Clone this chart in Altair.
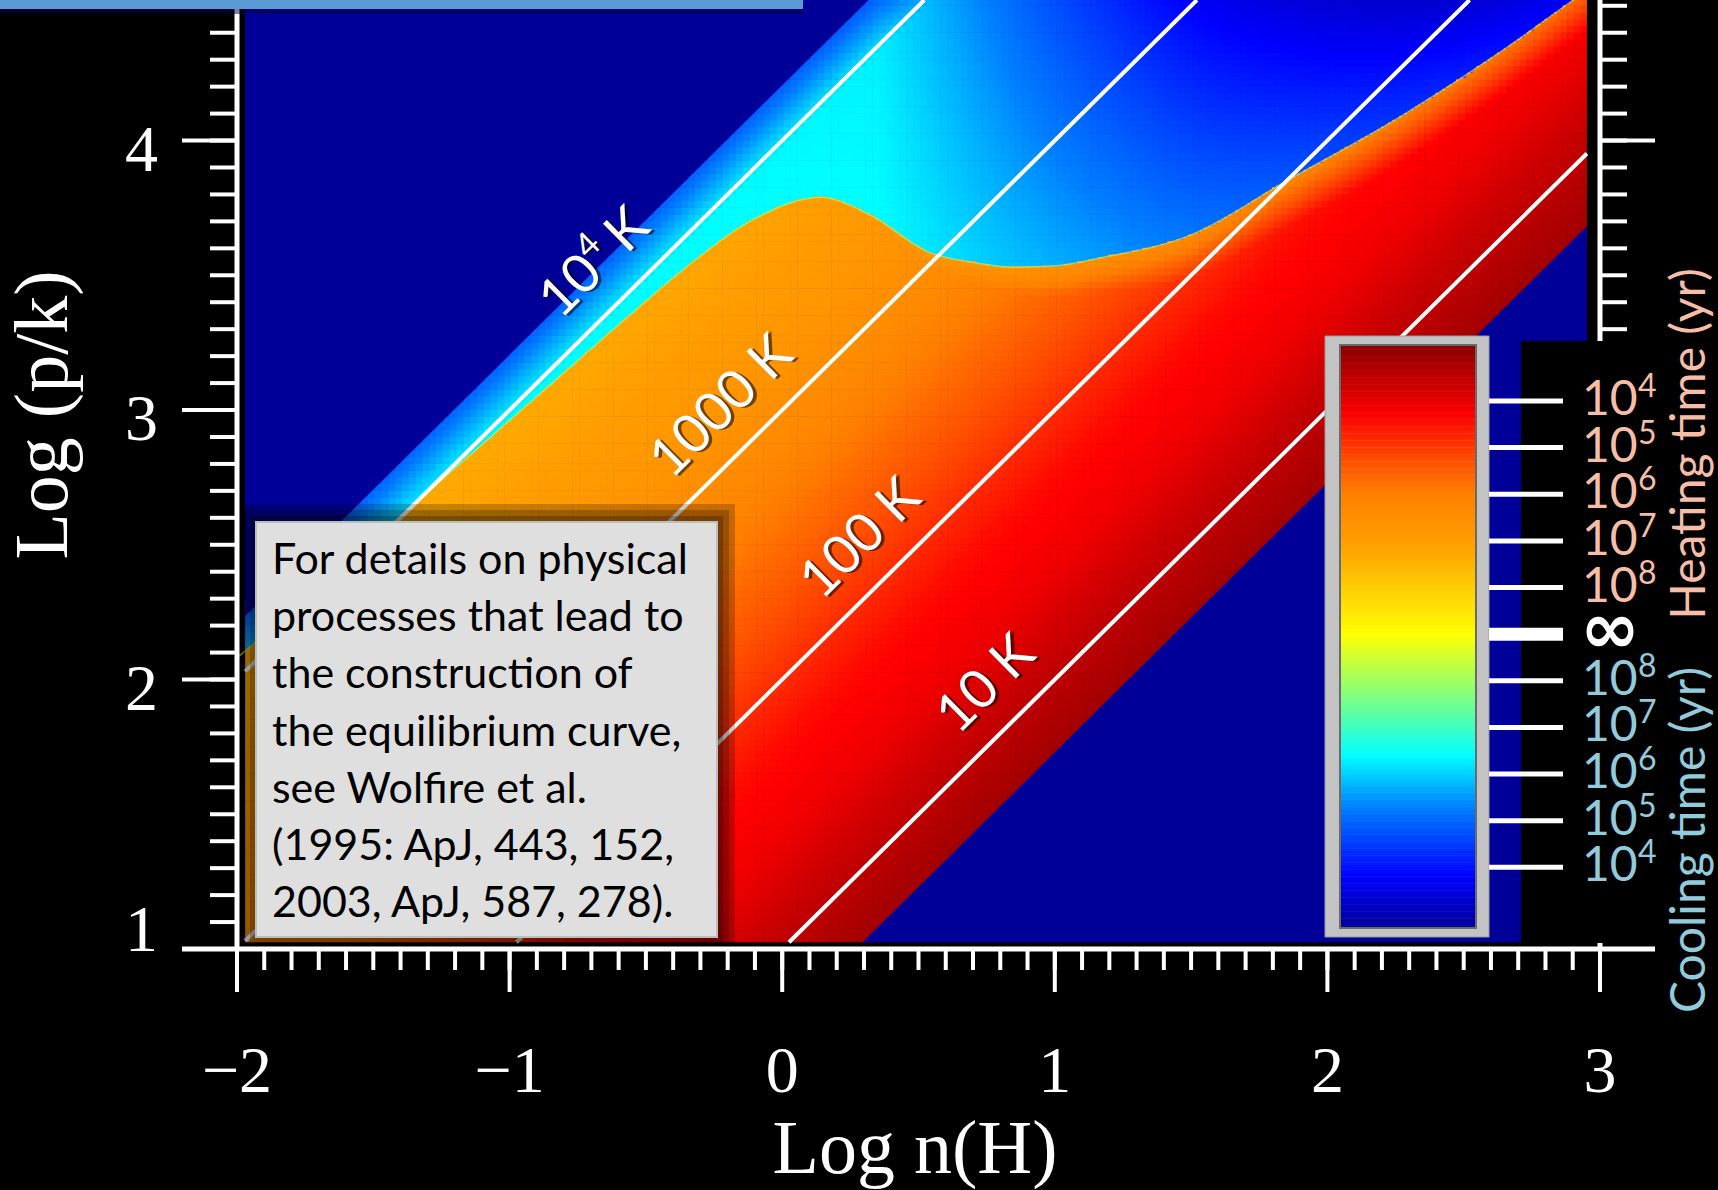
import numpy as np
import pandas as pd
import altair as alt

# ------------------------------------------------------------------ values
# thermal-equilibrium curve: log n(H) against log(p/k)
curve_logn = [-2.00, -1.60, -1.25, -0.90, -0.55, -0.34, -0.10, 0.14, 0.32, 0.54,
              0.72, 0.84, 1.00, 1.17, 1.50, 1.85, 2.27, 2.63, 2.90, 2.96]
curve_logp = [2.08, 2.43, 2.74, 3.05, 3.36, 3.54, 3.71, 3.79, 3.725, 3.585,
              3.545, 3.53, 3.535, 3.565, 3.65, 3.85, 4.09, 4.325, 4.52, 4.563]

# temperature range (log T) covered by the computed grid
grid_logT = [0.73, 4.205]

# heating side: log T -> heating-time level (decades short of "infinite")
heat_logT = [0.6, 0.7, 1.1, 1.4, 1.75, 2.2, 2.9, 3.2, 3.7, 4.1, 4.3]
heat_level = [6.0, 5.9, 5.4, 4.9, 4.6, 3.8, 2.65, 2.3, 1.9, 1.6, 1.5]

# isotherms (log T) and their labels
iso_logT = [4, 3, 2, 1]
iso_text = ["10", "1000 K", "100 K", "10 K"]
iso_label_logn = [-0.69, -0.22, 0.29, 0.75]

# colour scale: level (+ heating, - cooling, 0 = infinite time)
level_stops = [-6.3, -5.2, -3.7, -2.6, -1.35, 0.0, 1.9, 3.0, 3.7, 4.7, 6.2]
level_colors = ["#000099", "#0000ff", "#0080ff", "#00ffff", "#80ff80", "#ffff00",
                "#ffa000", "#ff8000", "#ff5000", "#ff0000", "#880000"]
cb_ticks = [5, 4, 3, 2, 1, 0, -1, -2, -3, -4, -5]
cb_exponent = ["4", "5", "6", "7", "8", "", "8", "7", "6", "5", "4"]
cb_side = ["heat"] * 5 + ["inf"] + ["cool"] * 5

x_ticks = [round(-2 + 0.1 * i, 1) for i in range(51)]
y_ticks = [round(1 + 0.1 * i, 1) for i in range(36)]
x_major = [-2, -1, 0, 1, 2, 3]
y_major = [1, 2, 3, 4]

note_lines = ["For details on physical", "processes that lead to",
              "the construction of", "the equilibrium curve,",
              "see Wolfire et al.", "(1995: ApJ, 443, 152,",
              "2003, ApJ, 587, 278)."]

# ------------------------------------------------------------------ layout
W, H = 1363, 949
X_DOM = [-2, 3]
Y_DOM = [1, 4.5215]
PX = W / (X_DOM[1] - X_DOM[0])
PY = H / (Y_DOM[1] - Y_DOM[0])
GX = [-1.97, 2.952]          # extent of the computed grid
GY = [1.025, 4.5215]
NAVY = "#000099"
SERIF = "Liberation Serif"
SANS = "Lato"
HEAT_C = "#f6bea6"
COOL_C = "#92cbdc"
CB_RANGE = [928, 345]        # colour-bar extent, pixels from the top

xs = alt.Scale(domain=X_DOM, nice=False, zero=False)
ys = alt.Scale(domain=Y_DOM, nice=False, zero=False)
level_scale = alt.Scale(domain=level_stops, range=level_colors, interpolate="rgb")
cb_scale = alt.Scale(domain=[-6.3, 6.2], range=CB_RANGE, nice=False, zero=False)


def qx(f):
    return alt.X(f"{f}:Q", scale=xs, axis=None)


def qy(f):
    return alt.Y(f"{f}:Q", scale=ys, axis=None)


def one():
    return pd.DataFrame({"k": [0]})


# ------------------------------------------------------------------ field
def monotone(xq, xp, yp):
    """Monotone cubic through the curve points (same family as Vega's 'monotone')."""
    xp = np.asarray(xp, float)
    yp = np.asarray(yp, float)
    h = np.diff(xp)
    dl = np.diff(yp) / h
    m = np.zeros_like(yp)
    for i in range(1, len(xp) - 1):
        p = (dl[i - 1] * h[i] + dl[i] * h[i - 1]) / (h[i - 1] + h[i])
        m[i] = (np.sign(dl[i - 1]) + np.sign(dl[i])) * min(abs(dl[i - 1]), abs(dl[i]), 0.5 * abs(p))
    m[0] = (3 * dl[0] - m[1]) / 2
    m[-1] = (3 * dl[-1] - m[-2]) / 2
    xq = np.clip(np.asarray(xq, float), xp[0], xp[-1])
    k = np.clip(np.searchsorted(xp, xq) - 1, 0, len(xp) - 2)
    t = (xq - xp[k]) / h[k]
    h00 = 2 * t ** 3 - 3 * t ** 2 + 1
    h10 = t ** 3 - 2 * t ** 2 + t
    h01 = -2 * t ** 3 + 3 * t ** 2
    h11 = t ** 3 - t ** 2
    return h00 * yp[k] + h10 * h[k] * m[k] + h01 * yp[k + 1] + h11 * h[k] * m[k + 1]


def level_at(xc, yc):
    pc = monotone(xc, curve_logn, curve_logp)
    d = yc - pc
    lt = yc - xc
    cool = -(2.6 + 1.05 * np.maximum(xc - 0.35, 0) * (1 + 1.2 * d)
             + 6.0 * np.maximum(lt - 3.97, 0) + 0.2 * d)
    heat = np.minimum(np.interp(lt, heat_logT, heat_level),
                      1.8 + 0.5 * np.maximum(xc, 0) + 10 * np.abs(d))
    return np.clip(np.where(d >= 0, cool, heat), -6.25, 6.15)


step = 0.025
nx = int(np.ceil((GX[1] - GX[0]) / step))
ny = int(np.ceil((GY[1] - GY[0]) / step))
X0, Y0 = np.meshgrid(GX[0] + np.arange(nx) * step, GY[0] + np.arange(ny) * step)
X0, Y0 = X0.ravel(), Y0.ravel()
X1, Y1 = np.minimum(X0 + step, GX[1]), np.minimum(Y0 + step, GY[1])
XC, YC = (X0 + X1) / 2, (Y0 + Y1) / 2
lt = YC - XC
keep = (lt > grid_logT[0] - 0.045) & (lt < grid_logT[1] + 0.045)
dc = YC - monotone(XC, curve_logn, curve_logp)
near = keep & (np.abs(dc) < 0.03)
far = keep & ~near

parts = [(X0[far], X1[far], Y0[far], Y1[far])]
sub = 3
nx0, nx1, ny0, ny1 = X0[near], X1[near], Y0[near], Y1[near]
wx, wy = (nx1 - nx0) / sub, (ny1 - ny0) / sub
for i in range(sub):
    for j in range(sub):
        a = nx0 + i * wx
        b = ny0 + j * wy
        parts.append((a, a + wx, b, b + wy))
cx0 = np.concatenate([p[0] for p in parts])
cx1 = np.concatenate([p[1] for p in parts])
cy0 = np.concatenate([p[2] for p in parts])
cy1 = np.concatenate([p[3] for p in parts])
val = level_at((cx0 + cx1) / 2, (cy0 + cy1) / 2)
# slight overlap so neighbouring cells leave no seams
cx1e = np.where(cx1 < GX[1] - 1e-9, cx1 + 0.002, cx1)
cy1e = np.where(cy1 < GY[1] - 1e-9, cy1 + 0.002, cy1)
cells = pd.DataFrame({"x0": cx0.round(4), "x1": cx1e.round(4),
                      "y0": cy0.round(4), "y1": cy1e.round(4), "v": val.round(2)})

# ------------------------------------------------------------------ main panel
bg = alt.Chart(pd.DataFrame({"x0": [GX[0]], "x1": [GX[1]], "y0": [GY[0]], "y1": [GY[1]]})).mark_rect(
    color=NAVY).encode(x=qx("x0"), x2="x1", y=qy("y0"), y2="y1")

heat = alt.Chart(cells).mark_rect(strokeWidth=0).encode(
    x=qx("x0"), x2="x1", y=qy("y0"), y2="y1",
    color=alt.Color("v:Q", scale=level_scale, legend=None))

# outside the computed temperature range
up_x = [GX[0], GY[1] - grid_logT[1]]
lo_x = [GY[0] - grid_logT[0], GX[1]]
clip_up = alt.Chart(pd.DataFrame({"x": up_x, "y": [v + grid_logT[1] for v in up_x],
                                  "y2": [GY[1], GY[1]]})).mark_area(color=NAVY).encode(
    x=qx("x"), y=qy("y"), y2="y2")
clip_lo = alt.Chart(pd.DataFrame({"x": lo_x, "y": [v + grid_logT[0] for v in lo_x],
                                  "y2": [GY[0], GY[0]]})).mark_area(color=NAVY).encode(
    x=qx("x"), y=qy("y"), y2="y2")

# thin bright edge along the equilibrium curve
cdf = pd.DataFrame({"x": curve_logn, "y": curve_logp})
edge = alt.Chart(cdf).mark_line(color="#d8f060", strokeWidth=1.5, opacity=0.6, clip=True,
                                interpolate="monotone").encode(
    x=qx("x"), y=qy("y"), order="x:Q")

# isotherms
iso_rows = []
for t in iso_logT:
    xa = max(GX[0], GY[0] - t)
    xb = min(GX[1], GY[1] - t)
    iso_rows += [{"T": t, "x": xa, "y": xa + t}, {"T": t, "x": xb, "y": xb + t}]
iso = alt.Chart(pd.DataFrame(iso_rows)).mark_line(color="white", strokeWidth=4).encode(
    x=qx("x"), y=qy("y"), detail="T:N")

ANG = 360 - np.degrees(np.arctan2(PY, PX))
lab_df = pd.DataFrame({"x": iso_label_logn,
                       "y": [n + t + 0.23 for n, t in zip(iso_label_logn, iso_logT)],
                       "text": iso_text})
plain = lab_df.iloc[1:]
first = lab_df.iloc[:1]


def iso_text_layer(df, dx, dy, size, text, align, shadow):
    kw = dict(angle=float(ANG), font=SANS, fontSize=size, align=align, baseline="middle",
              dx=dx + (2 if shadow else 0), dy=dy + (3 if shadow else 0))
    if shadow:
        kw.update(color="black", opacity=0.55)
    else:
        kw.update(color="white")
    enc = dict(x=qx("x"), y=qy("y"))
    enc["text"] = alt.Text("text:N") if text is None else alt.value(text)
    return alt.Chart(df).mark_text(**kw).encode(**enc)


iso_labels = []
for sh in (True, False):
    iso_labels += [
        iso_text_layer(plain, 0, 0, 54, None, "center", sh),
        iso_text_layer(first, -63, 0, 54, None, "left", sh),
        iso_text_layer(first, -1, -17, 34, "4", "left", sh),
        iso_text_layer(first, 30, 0, 54, "K", "left", sh),
    ]

# note box
bx0, bx1 = -2 + 19 / PX, -2 + 480 / PX
by1, by0 = Y_DOM[1] - 522 / PY, Y_DOM[1] - 937 / PY
shadow_rows = []
for pad in (18, 12, 6):
    shadow_rows.append({"x0": bx0 - pad / PX, "x1": bx1 + pad / PX,
                        "y0": by0 - pad / PY, "y1": by1 + pad / PY})
box_shadow = alt.Chart(pd.DataFrame(shadow_rows)).mark_rect(color="black", opacity=0.22).encode(
    x=qx("x0"), x2="x1", y=qy("y0"), y2="y1")
box = alt.Chart(pd.DataFrame({"x0": [bx0], "x1": [bx1], "y0": [by0], "y1": [by1]})).mark_rect(
    color="#dfdfdf", stroke="#bdbdbd", strokeWidth=2).encode(
    x=qx("x0"), x2="x1", y=qy("y0"), y2="y1")
note = alt.Chart(pd.DataFrame({"x": [-2 + 35 / PX], "y": [Y_DOM[1] - 574 / PY],
                               "t": ["\n".join(note_lines)]})).mark_text(
    align="left", baseline="alphabetic", lineBreak="\n", lineHeight=57.2,
    font=SANS, fontSize=43, color="black").encode(x=qx("x"), y=qy("y"), text="t:N")

# ------------------------------------------------------------------ axes (left, bottom, mirrored right)
WHITE = "white"
left_line = alt.Chart(one()).mark_rule(color=WHITE, strokeWidth=5).encode(
    x=alt.value(0), y=alt.value(0), y2=alt.value(H))
bottom_line = alt.Chart(one()).mark_rule(color=WHITE, strokeWidth=5).encode(
    y=alt.value(H), x=alt.value(-55), x2=alt.value(W + 55))
right_line = alt.Chart(one()).mark_rule(color=WHITE, strokeWidth=5).encode(
    x=alt.value(W), y=alt.value(0), y2=alt.value(H))

y_df = pd.DataFrame({"y": y_ticks})
ym_df = pd.DataFrame({"y": y_major})
x_df = pd.DataFrame({"x": x_ticks})
xm_df = pd.DataFrame({"x": x_major})
tick_rules = [
    alt.Chart(y_df).mark_rule(color=WHITE, strokeWidth=4).encode(
        y=qy("y"), x=alt.value(-27), x2=alt.value(0)),
    alt.Chart(ym_df).mark_rule(color=WHITE, strokeWidth=4).encode(
        y=qy("y"), x=alt.value(-55), x2=alt.value(0)),
    alt.Chart(y_df).mark_rule(color=WHITE, strokeWidth=4).encode(
        y=qy("y"), x=alt.value(W), x2=alt.value(W + 27)),
    alt.Chart(ym_df).mark_rule(color=WHITE, strokeWidth=4).encode(
        y=qy("y"), x=alt.value(W), x2=alt.value(W + 55)),
    alt.Chart(x_df).mark_rule(color=WHITE, strokeWidth=4).encode(
        x=qx("x"), y=alt.value(H), y2=alt.value(H + 21)),
    alt.Chart(xm_df).mark_rule(color=WHITE, strokeWidth=4).encode(
        x=qx("x"), y=alt.value(H), y2=alt.value(H + 43)),
]

x_lab = pd.DataFrame({"x": x_major, "t": [str(v).replace("-", "\u2212") for v in x_major]})
y_lab = pd.DataFrame({"y": y_major, "t": [str(v) for v in y_major]})
tick_labels = [
    alt.Chart(x_lab).mark_text(font=SERIF, fontSize=66, color=WHITE, align="center",
                               baseline="alphabetic").encode(
        x=qx("x"), y=alt.value(H + 143), text="t:N"),
    alt.Chart(y_lab[y_lab.y > 1]).mark_text(font=SERIF, fontSize=66, color=WHITE, align="right",
                                            baseline="alphabetic", dy=30).encode(
        y=qy("y"), x=alt.value(-79), text="t:N"),
    alt.Chart(y_lab[y_lab.y == 1]).mark_text(font=SERIF, fontSize=66, color=WHITE, align="right",
                                             baseline="alphabetic", dy=2).encode(
        y=qy("y"), x=alt.value(-79), text="t:N"),
]
x_title = alt.Chart(one()).mark_text(font=SERIF, fontSize=76, color=WHITE, align="center",
                                     baseline="alphabetic").encode(
    x=alt.value(678), y=alt.value(H + 224), text=alt.value("Log n(H)"))
y_title = alt.Chart(one()).mark_text(font=SERIF, fontSize=76, color=WHITE, align="center",
                                     baseline="alphabetic", angle=270).encode(
    x=alt.value(-170), y=alt.value(415), text=alt.value("Log (p/k)"))

top_bar = alt.Chart(one()).mark_rect(color="#5b9bd5").encode(
    x=alt.value(-237), x2=alt.value(566), y=alt.value(0), y2=alt.value(9))
top_bar_shadow = alt.Chart(one()).mark_rect(color="#000040", opacity=0.5).encode(
    x=alt.value(-237), x2=alt.value(566), y=alt.value(9), y2=alt.value(14))

# black backing of the colour-bar labels, with the "infinite time" mark on it
panel = alt.Chart(one()).mark_rect(color="black").encode(
    x=alt.value(1284), x2=alt.value(1481), y=alt.value(341), y2=alt.value(943))
inf_y = CB_RANGE[0] + (0 - (-6.3)) / (6.2 - (-6.3)) * (CB_RANGE[1] - CB_RANGE[0])
inf_label = alt.Chart(one()).mark_text(
    font="DejaVu Sans", fontSize=72, fontWeight="bold", color="white", align="center",
    baseline="middle").encode(
    x=alt.value(1373), y=alt.value(float(inf_y) - 3), text=alt.value("\u221e"))

main = alt.layer(bg, heat, clip_up, clip_lo, edge, iso, *iso_labels,
                 box_shadow, box, note, left_line, bottom_line, right_line,
                 *tick_rules, *tick_labels, x_title, y_title,
                 top_bar_shadow, top_bar, panel, inf_label)

# ------------------------------------------------------------------ colour bar
def cy(f):
    return alt.Y(f"{f}:Q", scale=cb_scale, axis=None)


frame = alt.Chart(one()).mark_rect(color="#c3c3c3", stroke="#9a9a9a", strokeWidth=1).encode(
    x=alt.value(1088), x2=alt.value(1252), y=alt.value(336), y2=alt.value(937))
lv = np.round(np.arange(-6.3, 6.2, 0.05), 3)
grad_df = pd.DataFrame({"v0": lv, "v1": np.minimum(lv + 0.06, 6.2), "v": lv + 0.025})
grad = alt.Chart(grad_df).mark_rect(strokeWidth=0).encode(
    x=alt.value(1103), x2=alt.value(1239), y=cy("v0"), y2="v1",
    color=alt.Color("v:Q", scale=level_scale, legend=None))
grad_border = alt.Chart(pd.DataFrame({"a": [-6.3], "b": [6.2]})).mark_rect(
    filled=False, stroke="#6a6a6a", strokeWidth=2).encode(
    x=alt.value(1103), x2=alt.value(1239), y=cy("a"), y2="b")

cb_df = pd.DataFrame({"v": cb_ticks, "e": cb_exponent, "side": cb_side, "base": "10"})
tick_thin = alt.Chart(cb_df[cb_df.side != "inf"]).mark_rule(color="white", strokeWidth=5).encode(
    y=cy("v"), x=alt.value(1252), x2=alt.value(1326))
tick_inf = alt.Chart(cb_df[cb_df.side == "inf"]).mark_rule(color="white", strokeWidth=13).encode(
    y=cy("v"), x=alt.value(1252), x2=alt.value(1326))

cb_labels = []
for side, col in (("heat", HEAT_C), ("cool", COOL_C)):
    sdf = cb_df[cb_df.side == side]
    cb_labels.append(alt.Chart(sdf).mark_text(font=SANS, fontSize=48, color=col, align="left",
                                              baseline="middle").encode(
        y=cy("v"), x=alt.value(1345), text="base:N"))
    cb_labels.append(alt.Chart(sdf).mark_text(font=SANS, fontSize=32, color=col, align="left",
                                              baseline="middle", dy=-14).encode(
        y=cy("v"), x=alt.value(1401), text="e:N"))

heat_title = alt.Chart(one()).mark_text(font=SANS, fontSize=48, color=HEAT_C, angle=270,
                                        align="center", baseline="alphabetic").encode(
    x=alt.value(1468), y=alt.value(444), text=alt.value("Heating time (yr)"))
cool_title = alt.Chart(one()).mark_text(font=SANS, fontSize=48, color=COOL_C, angle=270,
                                        align="center", baseline="alphabetic").encode(
    x=alt.value(1468), y=alt.value(840), text=alt.value("Cooling time (yr)"))

colorbar = alt.layer(frame, grad, grad_border, tick_thin, tick_inf,
                     *cb_labels, heat_title, cool_title)

chart = alt.layer(main, colorbar).resolve_scale(y="independent").properties(
    width=W, height=H,
    padding={"left": 237, "top": 0, "right": 118, "bottom": 241},
    autosize=alt.AutoSizeParams(type="none"),
).configure(background="black").configure_view(strokeWidth=0)

chart.save("out.html", embed_options={"renderer": "svg", "actions": False})
